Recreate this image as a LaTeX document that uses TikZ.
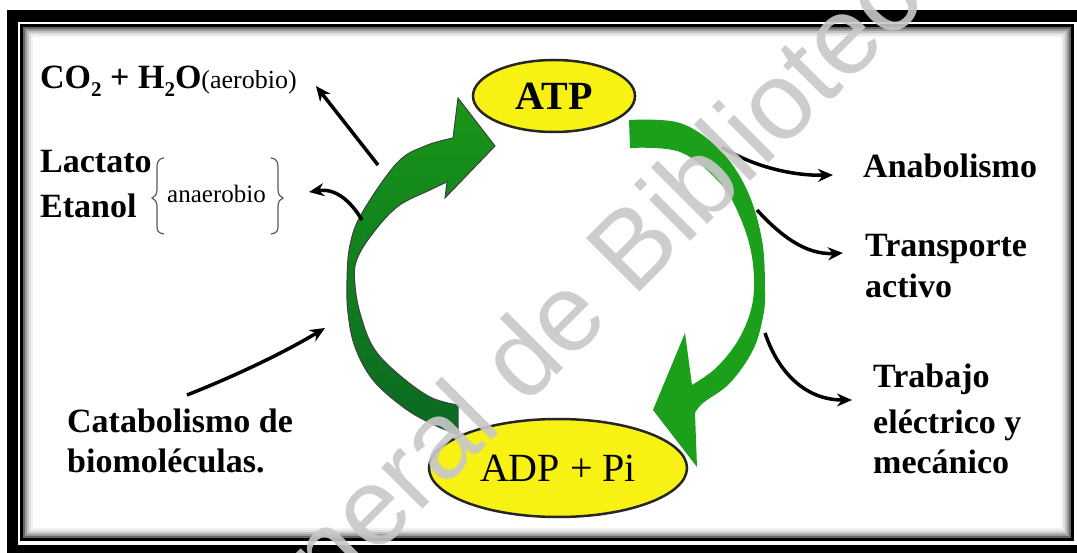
\documentclass[tikz,border=0pt]{standalone}
\usepackage{fontspec}
\setmainfont{Liberation Serif}
\newfontfamily\wmfont{Liberation Sans}
\usetikzlibrary{shapes.geometric,arrows.meta}
\definecolor{ringgreen}{RGB}{28,160,28}
\definecolor{ringtop}{RGB}{25,150,25}
\definecolor{ringbot}{RGB}{10,105,35}
\definecolor{molyellow}{RGB}{248,242,20}
\definecolor{wmgray}{RGB}{200,200,200}
\newcommand{\chemsub}[1]{\raisebox{-8pt}{\fontsize{21}{24}\selectfont #1}}
\begin{document}
\begin{tikzpicture}[x=1pt,y=-1pt,
  lbl/.style={anchor=base west, inner sep=0pt, font=\fontsize{34}{40}\selectfont\bfseries},
  small/.style={anchor=base west, inner sep=0pt, font=\fontsize{25}{30}\selectfont},
  mol/.style={ellipse, draw=black!85, line width=2.5pt, fill=molyellow, inner sep=0pt},
  conn/.style={line width=3.5pt, -{Stealth[length=15pt,width=13pt]}},
  brace/.style={draw=black!65, line width=1.2pt},
]
\useasboundingbox (0,0) rectangle (1077,553);
\begin{scope}
\clip (0,0) rectangle (1077,553);
% double frame with inner shadow
\fill[black] (7,10) rectangle (1100,600);
\fill[white] (18,22) rectangle (1100,545);
\draw[black, line width=3pt] (21.5,25.5) rectangle (1072.5,539.5);
\foreach \d/\c in {2.5/60,4.5/40,6.5/24,8.5/12,10.5/5}
  \draw[black!\c, line width=2pt] (21.5+\d,25.5+\d) rectangle (1072.5-\d,539.5-\d);

% right ring arrow: ATP -> ADP + Pi
\fill[ringgreen] (629,120) -- plot[smooth, tension=0.6] coordinates {(629,120) (680,123) (720,150) (747,190) (762,240) (765,290) (763,317) (753,350) (730,383) (703,403) (695,413)}
  -- (697,467) -- (653,410) -- (685,333) -- (692,385)
  -- plot[smooth, tension=0.6] coordinates {(692,385) (717,367) (740,337) (753,300) (752,257) (740,217) (720,183) (680,152) (630,148)} -- cycle;

% left ring arrow: ADP + Pi -> ATP
\path[top color=ringtop, bottom color=ringbot, draw=black!75, line width=1pt]
  (458,435) -- plot[smooth, tension=0.6] coordinates {(458,435) (430,423) (403,407) (373,380) (355,347) (348,313) (347,280) (350,245) (362,213) (397,163) (425,146) (453,138)}
  -- (458,98) -- (495,146) -- (445,198) -- (447,182)
  -- plot[smooth, tension=0.6] coordinates {(447,182) (430,190) (397,207) (370,237) (356,262) (355,285) (360,313) (373,347) (397,373) (430,397) (458,405)} -- cycle;

% molecules
\node[mol, minimum width=162pt, minimum height=72pt, font=\fontsize{40}{44}\selectfont\bfseries] (atp) at (554,96) {ATP};
\node[mol, minimum width=258pt, minimum height=98pt, font=\fontsize{40}{44}\selectfont] (adp) at (558,468) {ADP + Pi};

% labels
\node[lbl] (co2) at (40,89) {CO\chemsub{2} + H\chemsub{2}O{\mdseries\fontsize{26}{30}\selectfont(aerobio)}};
\node[lbl] (lac) at (40,173) {Lactato};
\node[lbl] (eta) at (40,218) {Etanol};
\node[small] (anaer) at (167,203) {anaerobio};
\node[lbl] (cat1) at (67,432) {Catabolismo de};
\node[lbl] (cat2) at (67,472) {biomoléculas.};
\node[lbl] (anab) at (863,178) {Anabolismo};
\node[lbl] (tra1) at (865,257) {Transporte};
\node[lbl] (tra2) at (865,298) {activo};
\node[lbl] (trb1) at (873,388) {Trabajo};
\node[lbl] (trb2) at (873,433) {eléctrico y};
\node[lbl] (trb3) at (873,473) {mecánico};

% braces around "anaerobio"
\draw[brace] (164,158) .. controls (157,159) and (157,163) .. (157,170) -- (157,188) .. controls (157,195) and (155,197) .. (152,198)
  .. controls (155,199) and (157,201) .. (157,208) -- (157,226) .. controls (157,231) and (158,233) .. (164,234);
\draw[brace] (271,158) .. controls (278,159) and (278,163) .. (278,170) -- (278,188) .. controls (278,195) and (280,197) .. (283,198)
  .. controls (280,199) and (278,201) .. (278,208) -- (278,226) .. controls (278,231) and (277,233) .. (271,234);

% energy flows
\coordinate (fromAer) at (378,165);   \coordinate (toAer) at (316,86);
\coordinate (fromAnaer) at (362,220); \coordinate (toAnaer) at (309,192);
\coordinate (fromCat) at (187,395);   \coordinate (toCat) at (325,328);
\coordinate (fromAnab) at (722,147);  \coordinate (toAnab) at (833,175);
\coordinate (fromTra) at (757,210);   \coordinate (toTra) at (843,253);
\coordinate (fromTrb) at (765,333);   \coordinate (toTrb) at (852,400);
\draw[conn] (fromAer) -- (toAer);
\draw[conn] (fromAnaer) .. controls (350,200) and (335,188) .. (toAnaer);
\draw[conn] (fromCat) .. controls (230,378) and (280,355) .. (toCat);
\draw[conn] (fromAnab) .. controls (750,165) and (790,176) .. (toAnab);
\draw[conn] (fromTra) .. controls (780,235) and (805,255) .. (toTra);
\draw[conn] (fromTrb) .. controls (778,372) and (805,400) .. (toTrb);

% watermark
\node[rotate=45, anchor=base west, inner sep=0pt, text=wmgray, opacity=0.9,
  font=\fontsize{110}{110}\selectfont\wmfont] (wm) at (227,705) {General de Bibliotecas};
\end{scope}
\end{tikzpicture}
\end{document}
